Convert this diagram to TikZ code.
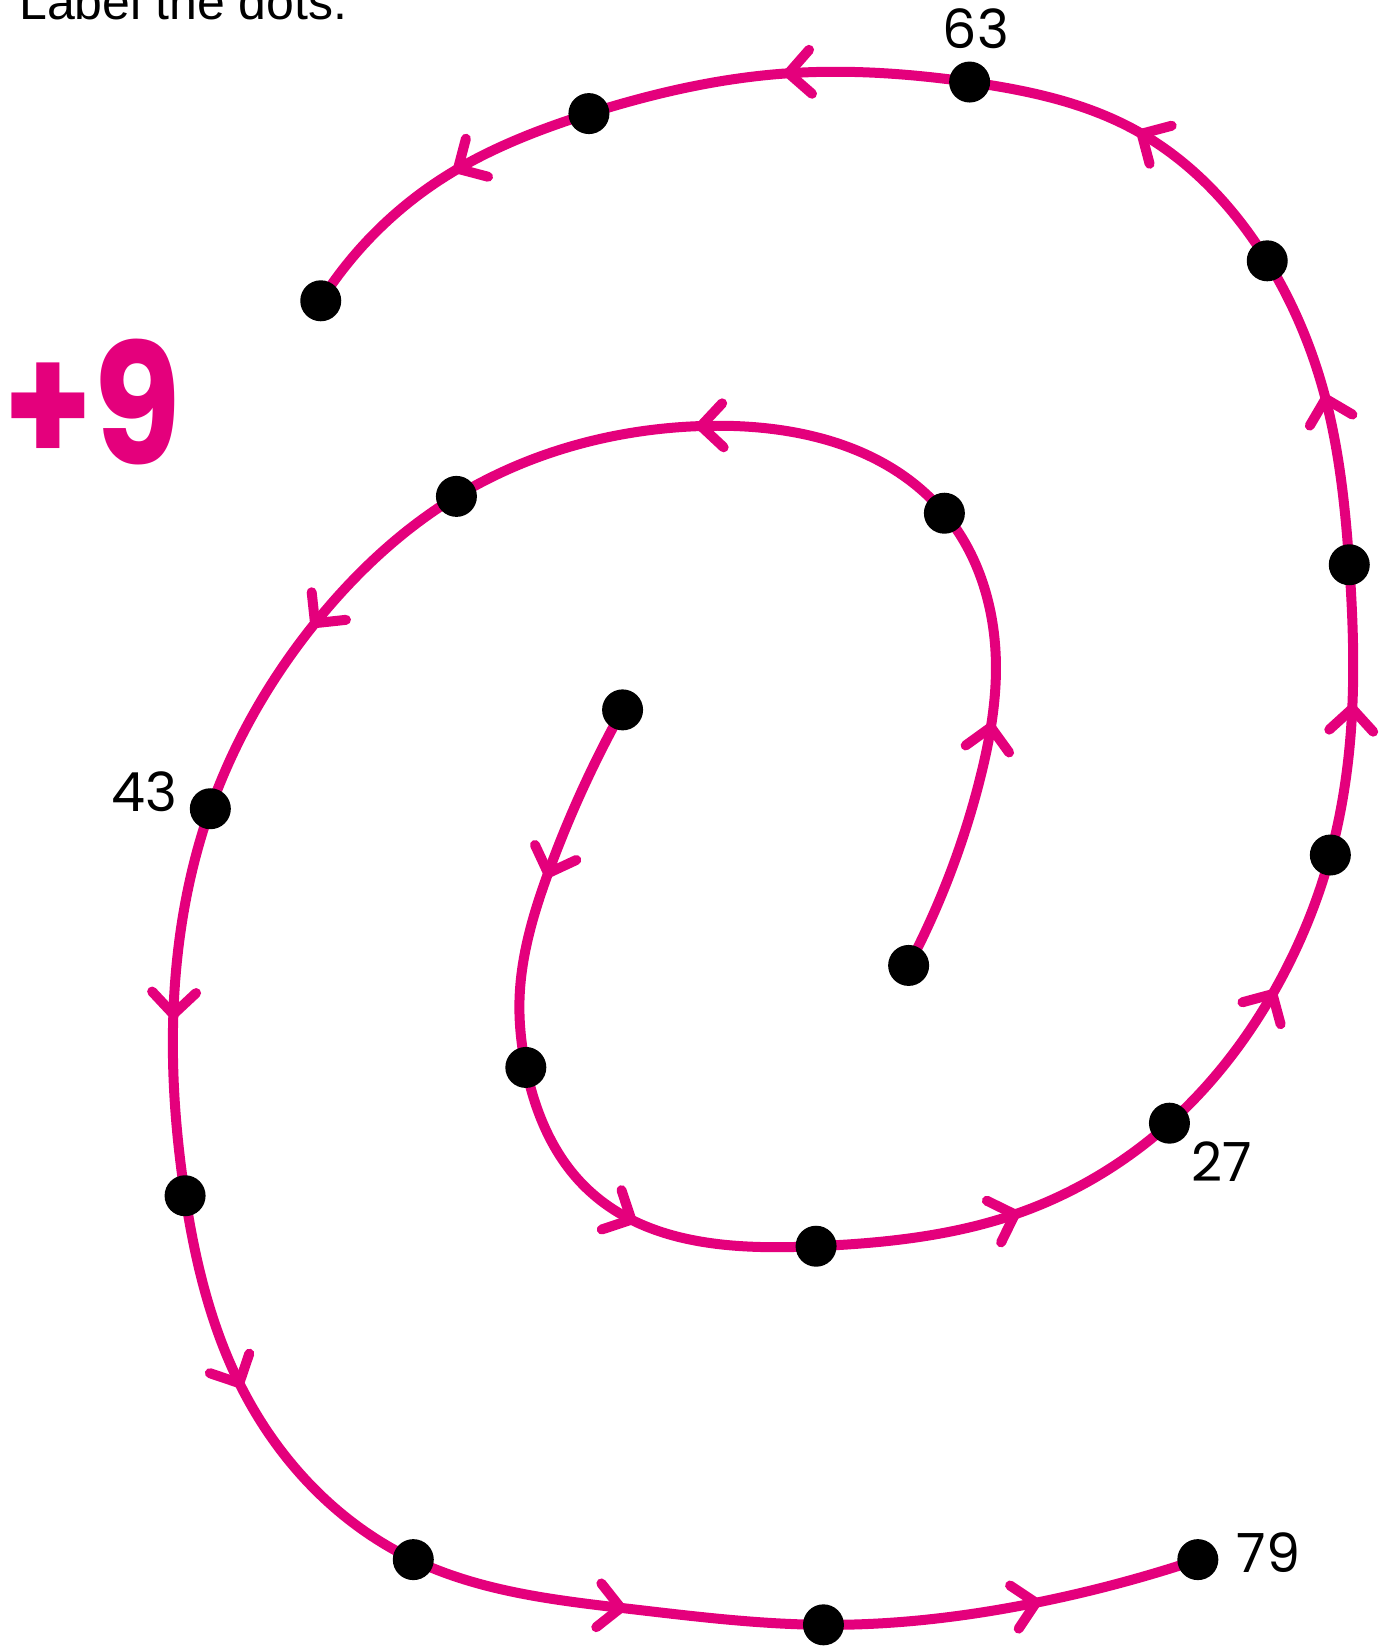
\documentclass[tikz,border=0pt]{standalone}
\usepackage{fontspec}
\setmainfont{Liberation Sans}
\newfontfamily\numfont{Poppins}
\usetikzlibrary{decorations.markings,hobby}
\definecolor{spiralpink}{RGB}{228,0,124}
\pgfdeclarelayer{bg}
\pgfsetlayers{bg,main}
\newcommand\drawchev{\draw[chev] (-11pt,11pt) -- (0pt,0pt) -- (-11pt,-11pt);}
\tikzset{
  dot/.style={circle,fill=black,inner sep=0pt,minimum size=20.5pt},
  spiral/.style={draw=spiralpink,line width=5pt,line cap=round,line join=round},
  chev/.style={draw=spiralpink,line width=5pt,line cap=round,line join=round},
  numlabel/.style={font=\numfont\fontsize{27}{30}\selectfont,inner sep=0pt},
}
\begin{document}
\begin{tikzpicture}[x=0.52591pt,y=-0.52591pt]
\useasboundingbox (0,0) rectangle (1312,1568);
\node[anchor=base west,inner sep=0pt,font=\fontsize{25}{30}\selectfont] (title) at (18,19) {Label the dots.};
\node[inner sep=0pt,text=spiralpink,font=\numfont\bfseries\fontsize{84}{90}\selectfont,xscale=0.85] (plus) at (88,382) {+9};
% first spiral dots
\node[dot] (d0) at (592,675) {};
\node[dot] (d9) at (500,1015) {};
\node[dot] (d18) at (776,1185) {};
\node[dot] (d27) at (1112,1068) {};
\node[dot] (d36) at (1265,813) {};
\node[dot] (d45) at (1283,537) {};
\node[dot] (d54) at (1205,248) {};
\node[dot] (d63) at (922,78) {};
\node[dot] (d72) at (560,108) {};
\node[dot] (d81) at (305,286) {};
% second spiral dots
\node[dot] (e16) at (864,918) {};
\node[dot] (e25) at (898,488) {};
\node[dot] (e34) at (434,472) {};
\node[dot] (e43) at (200,769) {};
\node[dot] (e52) at (176,1137) {};
\node[dot] (e61) at (393,1483) {};
\node[dot] (e70) at (783,1545) {};
\node[dot] (e79) at (1139,1483) {};
% labels
\node[numlabel] (l63) at (928,27) {63};
\node[numlabel] (l43) at (137,753) {43};
\node[numlabel] (l27) at (1162,1105) {27};
\node[numlabel] (l79) at (1206,1476) {79};
\begin{pgfonlayer}{bg}
\draw[spiral,use Hobby shortcut,postaction={decorate},decoration={markings,
  mark=at position 0.057 with {\drawchev},
  mark=at position 0.181 with {\drawchev},
  mark=at position 0.305 with {\drawchev},
  mark=at position 0.415 with {\drawchev},
  mark=at position 0.510 with {\drawchev},
  mark=at position 0.609 with {\drawchev},
  mark=at position 0.714 with {\drawchev},
  mark=at position 0.829 with {\drawchev},
  mark=at position 0.939 with {\drawchev}}]
  (d0.center) .. (522,828) .. (494,950) .. (d9.center) .. (560,1132) .. (d18.center) .. (970,1153) .. (d27.center) .. (1213,940) .. (d36.center) .. (1286,670) .. (d45.center) .. (1258,370) .. (d54.center) .. (1080,124) .. (d63.center) .. (745,70) .. (d72.center) .. (420,170) .. (d81.center);
\draw[spiral,use Hobby shortcut,postaction={decorate},decoration={markings,
  mark=at position 0.083 with {\drawchev},
  mark=at position 0.245 with {\drawchev},
  mark=at position 0.392 with {\drawchev},
  mark=at position 0.531 with {\drawchev},
  mark=at position 0.655 with {\drawchev},
  mark=at position 0.808 with {\drawchev},
  mark=at position 0.945 with {\drawchev}}]
  (e16.center) .. (932,740) .. (947,630) .. (e25.center) .. (670,405) .. (e34.center) .. (300,592) .. (e43.center) .. (165,960) .. (e52.center) .. (230,1320) .. (e61.center) .. (600,1530) .. (e70.center) .. (980,1525) .. (e79.center);
\end{pgfonlayer}
\end{tikzpicture}
\end{document}
